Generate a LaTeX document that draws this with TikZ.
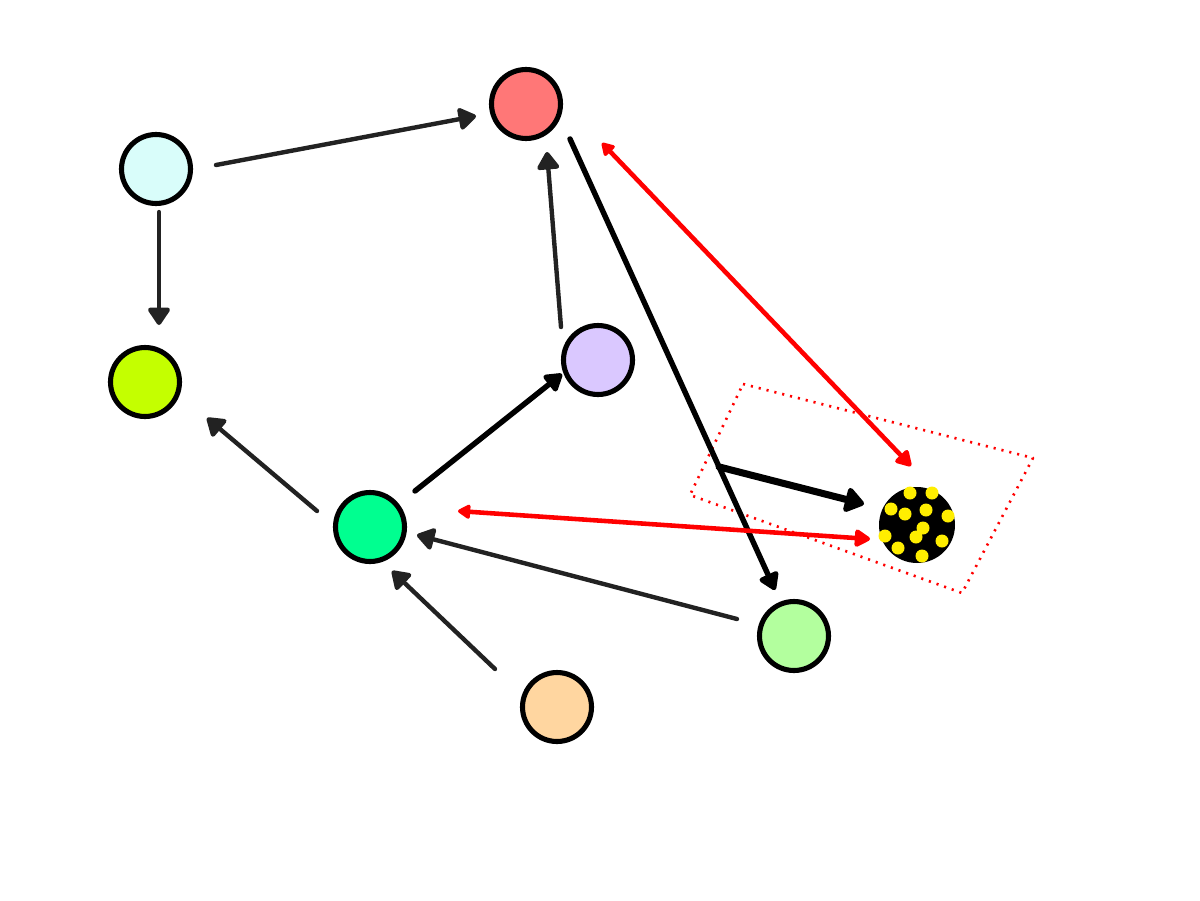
\documentclass[tikz,border=0pt]{standalone}
\usetikzlibrary{arrows.meta}
\definecolor{cA}{HTML}{D9FDFA}
\definecolor{cB}{HTML}{FF7777}
\definecolor{cC}{HTML}{C4FF00}
\definecolor{cD}{HTML}{DAC8FF}
\definecolor{cE}{HTML}{00FF90}
\definecolor{cF}{HTML}{B3FF9E}
\definecolor{cG}{HTML}{FFD6A0}
\definecolor{edgegray}{HTML}{222222}
\definecolor{dotyellow}{HTML}{FFEE00}
\tikzset{
  graytip/.tip={Triangle[round,length=11pt,width=14pt]},
  blacktip/.tip={Triangle[round,length=11pt,width=13pt]},
  thicktip/.tip={Triangle[round,length=12pt,width=16pt]},
  redtipA/.tip={Triangle[round,length=8pt,width=9pt]},
  redtipB/.tip={Triangle[round,length=10pt,width=11pt]}
}
\begin{document}
\begin{tikzpicture}[x=0.02cm,y=-0.02cm,
  vertex/.style={circle,draw=black,line width=2.9pt,minimum size=1.38cm,inner sep=0pt,outer sep=0pt},
  grayarrow/.style={draw=edgegray,line width=2.5pt,line cap=round,arrows={-graytip}},
  blackarrow/.style={draw=black,line width=3.1pt,line cap=round,arrows={-blacktip}},
  thickarrow/.style={draw=black,line width=4pt,line cap=round,arrows={-thicktip}},
  redarrow/.style={draw=red,line width=2.6pt,arrows={redtipA-redtipB}},
  dotbox/.style={draw=red,line width=1.5pt,dash pattern=on 1.2pt off 3.4pt,line join=round},
  ydot/.style={fill=dotyellow,draw=none}]
\useasboundingbox (0,0) rectangle (1200,900);
\fill[white] (0,0) rectangle (1200,900);

% nodes
\node[vertex,fill=cA] (A) at (156,169) {};
\node[vertex,fill=cB] (B) at (526,104) {};
\node[vertex,fill=cC] (C) at (145,382) {};
\node[vertex,fill=cD] (D) at (598,360) {};
\node[vertex,fill=cE] (E) at (370,527) {};
\node[vertex,fill=cF] (F) at (794,636) {};
\node[vertex,fill=cG] (G) at (557,707) {};
\node[circle,fill=black,draw=none,minimum size=1.52cm,inner sep=0pt,outer sep=0pt] (H) at (917,525) {};
\foreach \p in {(910,493),(932,493),(891,509),(905,514),(926,510),(948,516),(923,528),(916,537),(885,536),(942,541),(898,548),(922,556)}
  \fill[ydot] \p circle (6.5);

% dotted frame
\draw[dotbox] (743,384) -- (1033,458) -- (962,593) -- (690,495) -- cycle;

% connectors
\draw[grayarrow] ([shift={(60,-4)}]A.center) -- ([shift={(-50,12)}]B.center);
\draw[grayarrow] ([shift={(3,43)}]A.center) -- ([shift={(14,-57)}]C.center);
\draw[grayarrow] ([shift={(-37,-33)}]D.center) -- ([shift={(21,48)}]B.center);
\draw[blackarrow] ([shift={(44,35)}]B.center) -- coordinate[pos=0.727] (J) ([shift={(-19,-46)}]F.center);
\draw[grayarrow] ([shift={(-53,-16)}]E.center) -- ([shift={(62,36)}]C.center);
\draw[blackarrow] ([shift={(45,-36)}]E.center) -- ([shift={(-36,14)}]D.center);
\draw[grayarrow] ([shift={(-57,-17)}]F.center) -- ([shift={(47,8)}]E.center);
\draw[grayarrow] ([shift={(-62,-38)}]G.center) -- ([shift={(22,44)}]E.center);
\draw[thickarrow] (J) -- ([shift={(-53,-21)}]H.center);
\draw[redarrow] ([shift={(76,39)}]B.center) -- ([shift={(-6,-59)}]H.center);
\draw[redarrow] ([shift={(88,-16)}]E.center) -- ([shift={(-47,14)}]H.center);
\end{tikzpicture}
\end{document}
